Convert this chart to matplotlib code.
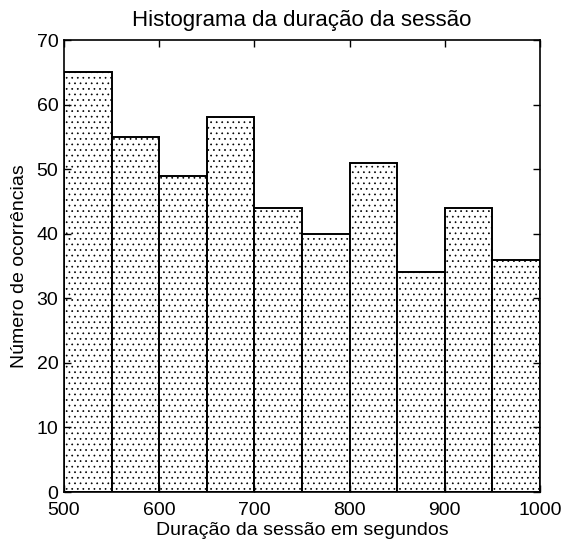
import matplotlib
matplotlib.use("Agg")
import matplotlib.pyplot as plt
import numpy as np

plt.rcParams['font.family'] = ['Liberation Sans', 'DejaVu Sans']
plt.rcParams['hatch.color'] = '#b0b0b0'
plt.rcParams['hatch.linewidth'] = 0.5

# bin edges (seconds) and counts per bin
bin_edges = [500, 550, 600, 650, 700, 750, 800, 850, 900, 950, 1000]
counts = [65, 55, 49, 58, 44, 40, 51, 34, 44, 36]

fig = plt.figure(figsize=(5.64, 5.45), dpi=100)
ax = fig.add_axes([0.1135, 0.0972, 0.8440, 0.8294])

left = np.array(bin_edges[:-1])
widths = np.diff(bin_edges)
ax.bar(left, counts, width=widths, align='edge', color='white',
       edgecolor='black', linewidth=1.4, hatch='...')

ax.set_xlim(500, 1000)
ax.set_ylim(0, 70)
ax.set_xticks(range(500, 1001, 100))
ax.set_yticks(range(0, 71, 10))
ax.tick_params(direction='in', top=True, right=True, length=5, width=1,
               labelsize=14)
ax.tick_params(axis='x', pad=7)
ax.tick_params(axis='y', pad=4)
for s in ax.spines.values():
    s.set_linewidth(1.2)

ax.set_title('Histograma da duração da sessão', fontsize=16, pad=10)
ax.set_xlabel('Duração da sessão em segundos', fontsize=14, labelpad=2)
ax.set_ylabel('Número de ocorrências', fontsize=14, labelpad=6)

fig.savefig('out.png', dpi=100)
